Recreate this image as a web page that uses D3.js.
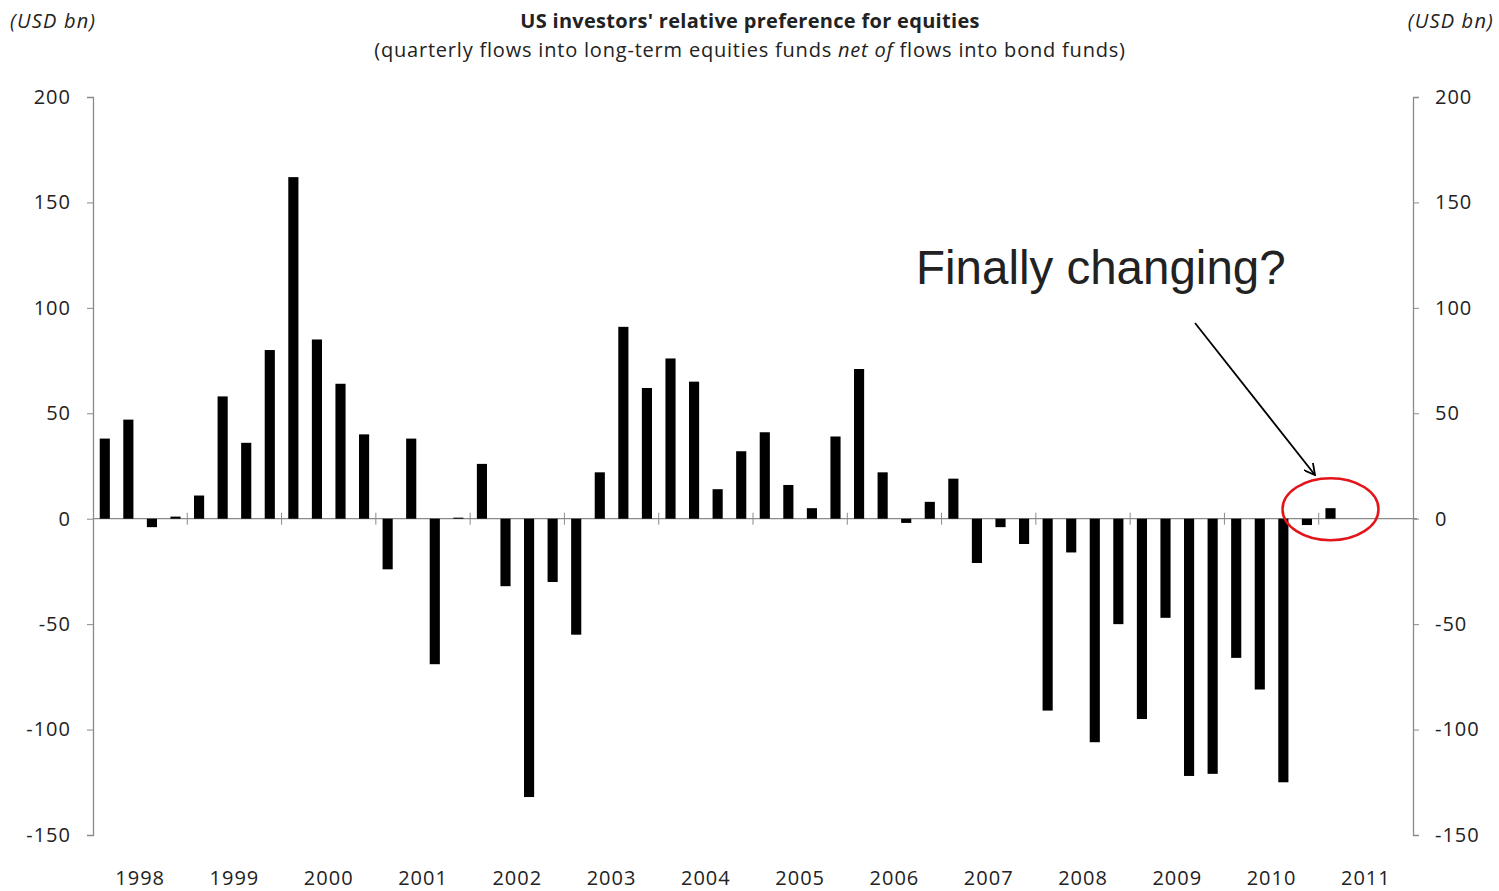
<!DOCTYPE html>
<head>
  <meta charset="utf-8">
  <script src="https://d3js.org/d3.v7.min.js"></script>
  <style>
    body { margin: 0; background: #fff; }
    text { font-family: "Open Sans", "Noto Sans", sans-serif; fill: #222; }
  </style>
</head>

<body>
  <script>
  // year labels on the category axis
  var years = ["1998", "1999", "2000", "2001", "2002", "2003", "2004",
               "2005", "2006", "2007", "2008", "2009", "2010", "2011"];

  // net quarterly flows, USD bn, 1998Q1 .. 2011Q1
  var flows = [
    38, 47, -4, 1,
    11, 58, 36, 80,
    162, 85, 64, 40,
    -24, 38, -69, 0.5,
    26, -32, -132, -30,
    -55, 22, 91, 62,
    76, 65, 14, 32,
    41, 16, 5, 39,
    71, 22, -2, 8,
    19, -21, -4, -12,
    -91, -16, -106, -50,
    -95, -47, -122, -121,
    -66, -81, -125, -3,
    5
  ];

  var yTicks = [-150, -100, -50, 0, 50, 100, 150, 200];

  // every quarter of every year is a slot on the axis, even empty ones
  var quarters = [];
  years.forEach(function(y) {
    for (var q = 1; q <= 4; q++) quarters.push(y + "Q" + q);
  });
  var data = flows.map(function(v, i) { return {q: quarters[i], v: v}; });

  var width = 1499, height = 891;
  var margin = {top: 97, right: 86, bottom: 56, left: 93};
  var innerW = width - margin.left - margin.right,
      innerH = height - margin.top - margin.bottom;

  var svg = d3.select("body").append("svg")
      .attr("width", width)
      .attr("height", height);

  var g = svg.append("g")
      .attr("transform", "translate(" + margin.left + "," + margin.top + ")");

  var x = d3.scaleBand()
      .domain(quarters)
      .range([0, innerW])
      .paddingInner(0.57)
      .paddingOuter(0.285);

  var y = d3.scaleLinear()
      .domain([-150, 200])
      .range([innerH, 0]);

  var axisColor = "#8a8a8a";
  var plain = function(d) { return String(d); };  // plain hyphen for negatives

  // left axis
  var yLeft = g.append("g")
      .call(d3.axisLeft(y).tickValues(yTicks).tickFormat(plain).tickSize(6).tickPadding(16));
  yLeft.select(".domain").attr("stroke", axisColor).attr("stroke-width", 1.3);
  yLeft.selectAll(".tick line").attr("stroke", axisColor);
  yLeft.selectAll(".tick text")
      .style("font-size", "20px")
      .style("letter-spacing", "1px")
      .attr("fill", "#222");

  // right axis
  var yRight = g.append("g")
      .attr("transform", "translate(" + innerW + ",0)")
      .call(d3.axisRight(y).tickValues(yTicks).tickFormat(plain).tickSize(6).tickPadding(16));
  yRight.select(".domain").attr("stroke", axisColor).attr("stroke-width", 1.3);
  yRight.selectAll(".tick line").attr("stroke", axisColor);
  yRight.selectAll(".tick text")
      .style("font-size", "20px")
      .style("letter-spacing", "1px")
      .attr("fill", "#222");

  // zero line
  g.append("line")
      .attr("x1", 0)
      .attr("x2", innerW + 4)
      .attr("y1", y(0))
      .attr("y2", y(0))
      .attr("stroke", axisColor)
      .attr("stroke-width", 1.3);

  // year boundary ticks crossing the zero line
  var step = x.step();
  g.selectAll(".ytick")
    .data(years.slice(1))
    .enter().append("line")
      .attr("class", "ytick")
      .attr("x1", function(d) { return x(d + "Q1") - (step - x.bandwidth()) / 2; })
      .attr("x2", function(d) { return x(d + "Q1") - (step - x.bandwidth()) / 2; })
      .attr("y1", y(0) - 6)
      .attr("y2", y(0) + 6)
      .attr("stroke", axisColor);

  // bars
  g.selectAll(".bar")
    .data(data)
    .enter().append("rect")
      .attr("class", "bar")
      .attr("x", function(d) { return x(d.q); })
      .attr("width", x.bandwidth())
      .attr("y", function(d) { return y(Math.max(0, d.v)); })
      .attr("height", function(d) { return Math.abs(y(d.v) - y(0)); })
      .attr("fill", "#000");

  // year labels, centred on each year's four quarters
  g.selectAll(".year")
    .data(years)
    .enter().append("text")
      .attr("class", "year")
      .attr("x", function(d) { return (x(d + "Q2") + x(d + "Q3") + x.bandwidth()) / 2; })
      .attr("y", innerH + 50)
      .attr("text-anchor", "middle")
      .style("font-size", "20px")
      .style("letter-spacing", "1px")
      .text(function(d) { return d; });

  // titles
  svg.append("text")
      .attr("x", 750)
      .attr("y", 28)
      .attr("text-anchor", "middle")
      .style("font-size", "20px")
      .style("letter-spacing", "0.3px")
      .style("font-weight", "bold")
      .text("US investors' relative preference for equities");

  var sub = svg.append("text")
      .attr("x", 750)
      .attr("y", 57)
      .attr("text-anchor", "middle")
      .style("font-size", "20px")
      .style("letter-spacing", "0.8px");
  sub.append("tspan").text("(quarterly flows into long-term equities funds ");
  sub.append("tspan").style("font-style", "italic").text("net of");
  sub.append("tspan").text(" flows into bond funds)");

  svg.append("text")
      .attr("x", 10)
      .attr("y", 28)
      .style("font-size", "20px")
      .style("letter-spacing", "1.2px")
      .style("font-style", "italic")
      .attr("fill", "#444")
      .text("(USD bn)");

  svg.append("text")
      .attr("x", 1494)
      .attr("y", 28)
      .attr("text-anchor", "end")
      .style("font-size", "20px")
      .style("letter-spacing", "1.2px")
      .style("font-style", "italic")
      .attr("fill", "#444")
      .text("(USD bn)");

  // annotation
  var last = data[data.length - 1];
  var cx = x(last.q) + x.bandwidth() / 2,
      cy = y(last.v) + 1;

  svg.append("text")
      .attr("x", 916)
      .attr("y", 284)
      .style("font-family", "'Liberation Sans', Arial, sans-serif")
      .style("font-size", "47.5px")
      .attr("fill", "#000")
      .text("Finally changing?");

  svg.append("defs").append("marker")
      .attr("id", "arrow")
      .attr("viewBox", "0 0 12 12")
      .attr("refX", 11)
      .attr("refY", 6)
      .attr("markerWidth", 12)
      .attr("markerHeight", 12)
      .attr("markerUnits", "userSpaceOnUse")
      .attr("orient", "auto")
    .append("path")
      .attr("d", "M0,0 L11,6 L0,12")
      .attr("fill", "none")
      .attr("stroke", "#000")
      .attr("stroke-width", 1.8);

  svg.append("line")
      .attr("x1", 1195)
      .attr("y1", 323)
      .attr("x2", 1315)
      .attr("y2", 475)
      .attr("stroke", "#000")
      .attr("stroke-width", 1.8)
      .attr("marker-end", "url(#arrow)");

  svg.append("ellipse")
      .attr("cx", margin.left + cx)
      .attr("cy", margin.top + cy)
      .attr("rx", 48)
      .attr("ry", 31)
      .attr("fill", "none")
      .attr("stroke", "#e3141a")
      .attr("stroke-width", 2.5);
  </script>
</body>
